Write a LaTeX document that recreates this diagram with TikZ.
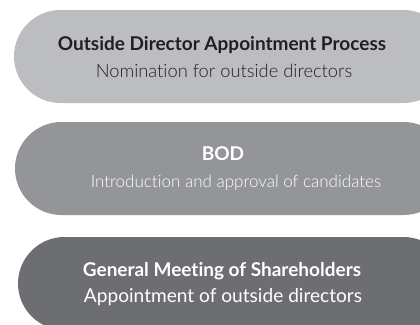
\documentclass[tikz,border=0pt]{standalone}
\usepackage{fontspec}
\setmainfont{Lato}[RawFeature=-liga]
\newfontfamily\lightfont{Lato Light}[RawFeature=-liga]
\definecolor{boxA}{HTML}{BCBDC0}
\definecolor{boxB}{HTML}{939598}
\definecolor{boxC}{HTML}{6D6E71}
\definecolor{darktext}{HTML}{231F20}
\begin{document}
\begin{tikzpicture}[x=1bp,y=-1bp,
  stadium/.style={rounded corners=46.5bp},
  title/.style={font=\fontsize{19bp}{22bp}\selectfont\bfseries, inner sep=0},
  sub/.style={font=\fontsize{18.3bp}{22bp}\selectfont\lightfont, inner sep=0}]
\useasboundingbox (0,0) rectangle (420,325);
\begin{scope}
\clip (0,0) rectangle (420,325);
\fill[boxA, stadium] (14,10) rectangle (450,103);
\fill[boxB, stadium] (15,122) rectangle (450,215);
\fill[boxC, stadium] (18,237) rectangle (450,330);
\end{scope}
\node[title, text=darktext] (t1) at (222,45) {Outside Director Appointment Process};
\node[sub, text=darktext] (s1) at (224,70.5) {Nomination for outside directors};
\node[title, text=white] (t2) at (223,154) {BOD};
\node[sub, text=white, font=\fontsize{17bp}{22bp}\selectfont\lightfont] (s2) at (236,183) {Introduction and approval of candidates};
\node[title, text=white] (t3) at (222,271) {General Meeting of Shareholders};
\node[sub, text=white, font=\fontsize{19.1bp}{22bp}\selectfont\mdseries] (s3) at (223,297) {Appointment of outside directors};
\end{tikzpicture}
\end{document}
